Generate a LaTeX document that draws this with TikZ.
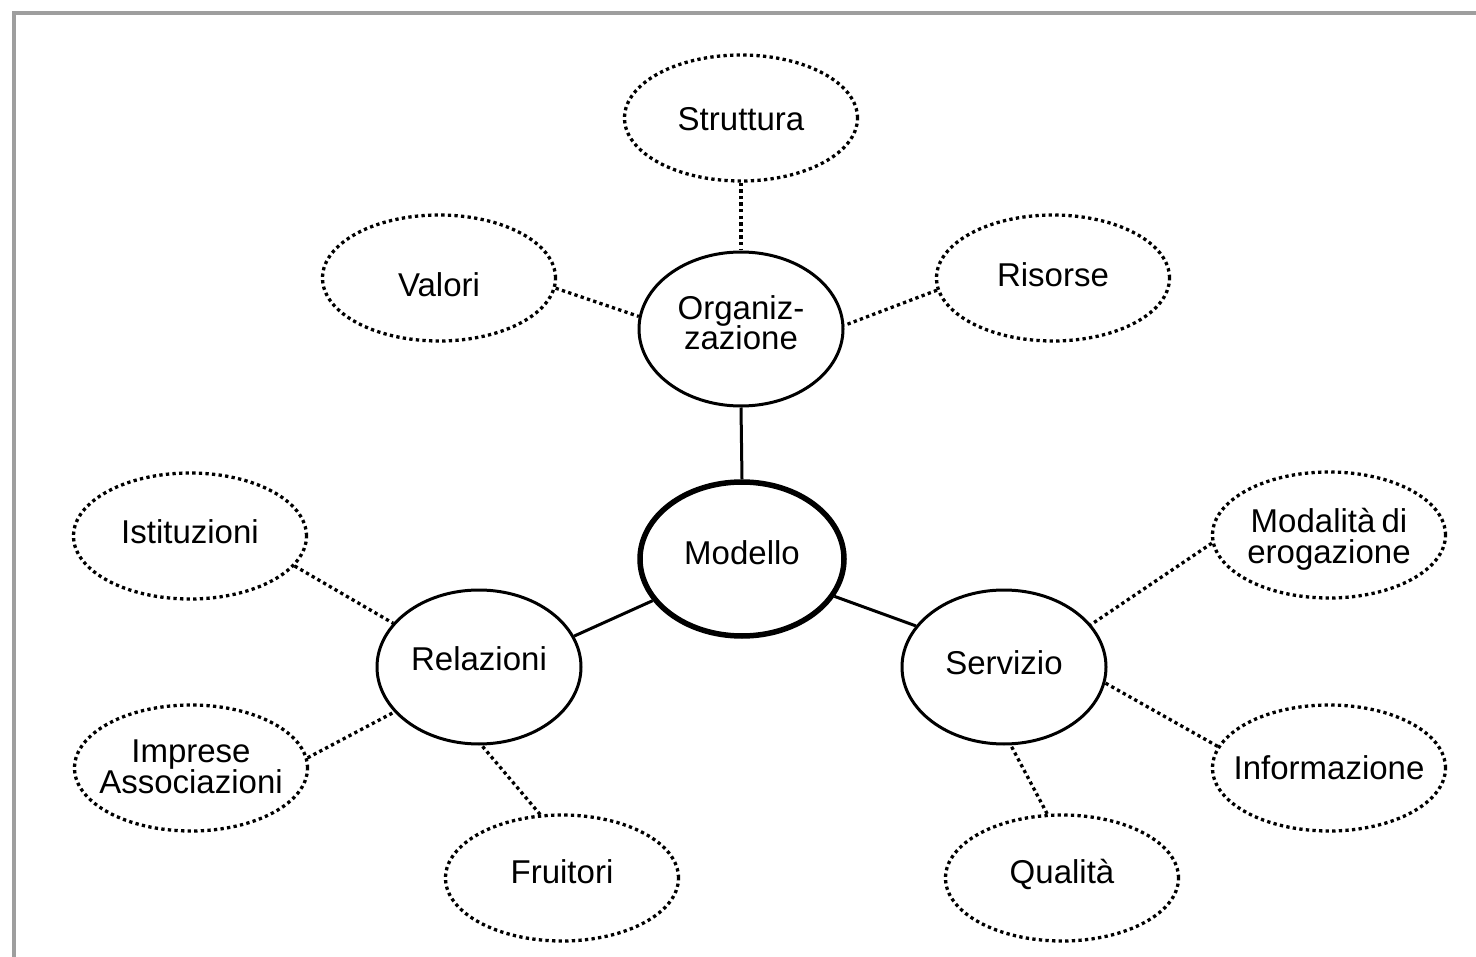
\documentclass[tikz,border=0pt]{standalone}
\usepackage{fontspec}
\setmainfont{Liberation Sans}
\usetikzlibrary{shapes.geometric}
\newcommand{\ztxt}[2][0]{\makebox[0pt]{\raisebox{#1pt}[\height][\depth]{\fontsize{33}{28.5}\selectfont\begin{tabular}{@{}c@{}}#2\end{tabular}}}}
\tikzset{
  leaf/.style={ellipse, draw, line width=3.3pt, dash pattern=on 3.3pt off 3.3pt,
    minimum width=233pt, minimum height=126pt, inner sep=0pt},
  hub/.style={ellipse, draw, line width=3pt,
    minimum width=204pt, minimum height=154pt, inner sep=0pt},
  core/.style={hub, line width=5.5pt},
  dotlink/.style={line width=3.3pt, dash pattern=on 3.3pt off 3.3pt},
  sollink/.style={line width=3pt},
  frameline/.style={line width=4pt, draw=black!38}
}
\begin{document}
\begin{tikzpicture}[x=1pt,y=-1pt]
\useasboundingbox (0,0) rectangle (1476,957);
\clip (0,0) rectangle (1476,957);
\fill[white] (0,0) rectangle (1476,957);
\coordinate (fa) at (14,990);
\coordinate (fb) at (14,13);
\coordinate (fc) at (1500,13);
\draw[frameline] (fa) -- (fb) -- (fc);

\node[leaf] (strut) at (741,118) {\ztxt[-5]{Struttura}};
\node[leaf] (valori) at (439,278) {\ztxt[-11]{Valori}};
\node[leaf] (risorse) at (1053,278) {\ztxt[-1]{Risorse}};
\node[hub] (org) at (741,329) {\ztxt[2]{Organiz-\\[-2pt]zazione}};
\node[core] (mod) at (742,559) {\ztxt[2]{Modello}};
\node[leaf] (ist) at (190,536) {\ztxt{Istituzioni}};
\node[hub] (rel) at (479,667) {\ztxt[4]{Relazioni}};
\node[hub] (serv) at (1004,667) {\ztxt{Servizio}};
\node[leaf] (modal) at (1329,535) {\ztxt[-5]{Modalità\hspace{-3pt} di\\[-2pt]erogazione}};
\node[leaf] (impr) at (191,768) {\ztxt[-3]{Imprese\\[-2pt]Associazioni}};
\node[leaf] (info) at (1329,768) {\ztxt[-4]{Informazione}};
\node[leaf] (fruit) at (562,878) {\ztxt[2]{Fruitori}};
\node[leaf] (qual) at (1062,878) {\ztxt[2]{Qualità}};

\draw[dotlink] (strut.south) -- (org.north);
\draw[dotlink] (valori.-5.9) -- (org.173.8);
\draw[dotlink] (risorse.-174.1) -- (org.2.2);
\draw[sollink] (org.south) -- (mod.north);
\draw[sollink] (mod.-155.5) -- (rel.18.3);
\draw[sollink] (mod.-22.8) -- (serv.155.9);
\draw[dotlink] (ist.-16) -- (rel.153.4);
\draw[dotlink] (impr.5.5) -- (rel.-152.4);
\draw[dotlink] (fruit.109.3) -- (rel.-88.5);
\draw[dotlink] (modal.-176.7) -- (serv.26.8);
\draw[dotlink] (info.169.6) -- (serv.-9.4);
\draw[dotlink] (qual.103.4) -- (serv.-85.5);
\end{tikzpicture}
\end{document}
